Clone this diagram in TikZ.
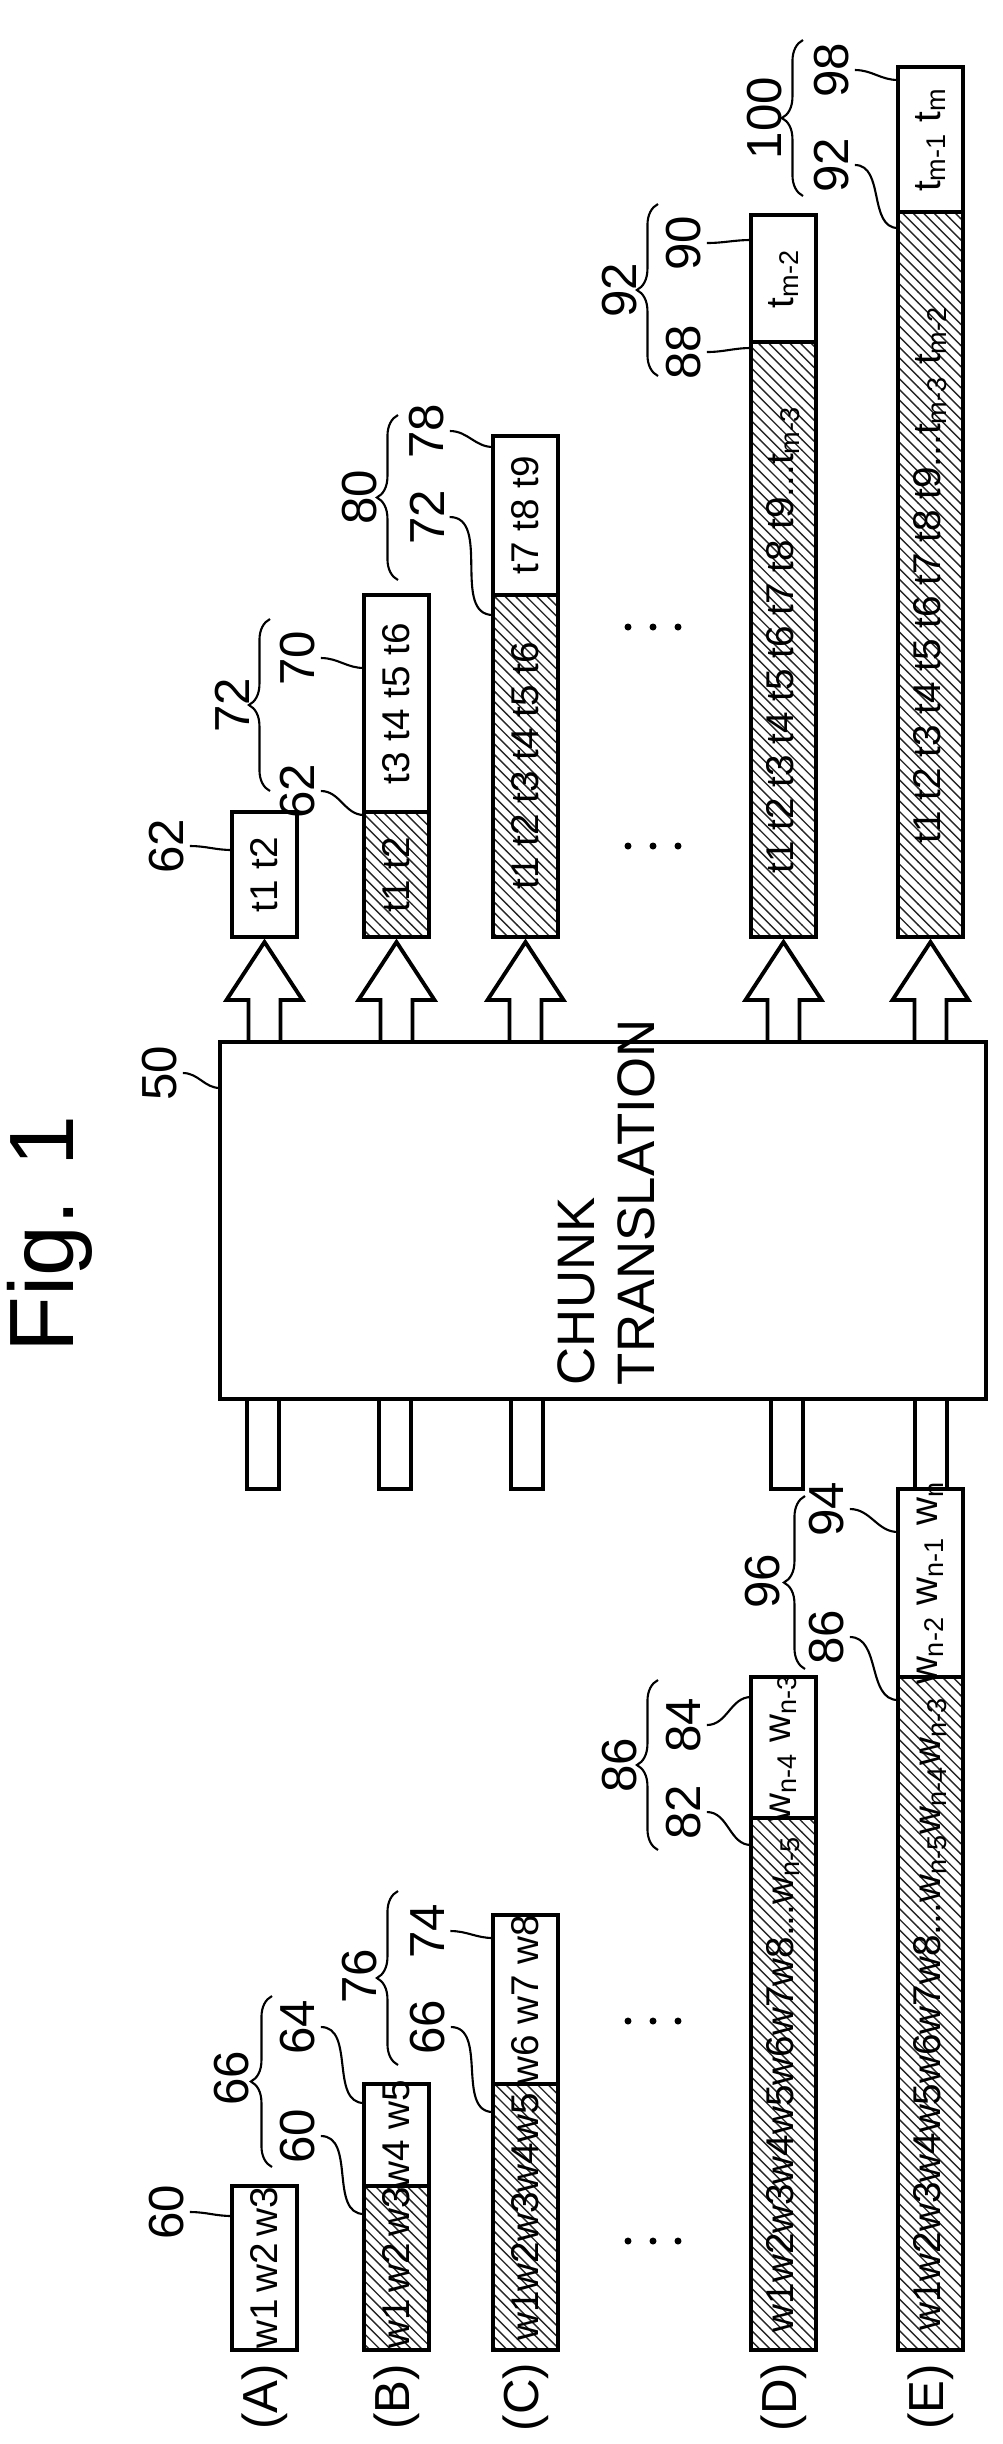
\documentclass[tikz,border=0pt]{standalone}
\usepackage{fontspec}
\setmainfont{Liberation Sans}
\usetikzlibrary{patterns,decorations.pathreplacing}
\newcommand{\sub}[1]{\textsubscript{#1}}
\begin{document}
\begin{tikzpicture}[x=0.01cm,y=-0.01cm,line width=1.1pt]

        \tikzset{num/.style = {rotate=90,font=\fontsize{14}{14}\selectfont,inner sep=1pt}}
        \tikzset{word/.style = {rotate=90,font=\fontsize{11}{11}\selectfont,inner sep=0pt}}
        \tikzset{hatch/.style = {pattern=north west lines,pattern color=black!85}}
        \tikzset{lead/.style = {line width=0.6pt}}
        \tikzset{grp/.style = {decorate,decoration={brace,amplitude=6pt},line width=0.6pt}}

        \useasboundingbox (0,0) rectangle (1002,2444);

        \node[rotate=90,font=\fontsize{26}{26}\selectfont] (fig) at (50,1234) {Fig. 1};

        % translation block
        \draw (220,1042) rectangle (986,1399);
        \node[rotate=90,anchor=north west,align=left,font=\fontsize{15}{17}\selectfont,inner sep=0pt] (chunk) at (556,1387) {CHUNK\\TRANSLATION};
        \node[num] (n50) at (160,1073) {50};
        \coordinate (c50) at (220,1088);
        \draw[lead] (n50.south) to[out=0,in=180] (c50);

        % output arrows
        \foreach \c in {264.5,396.5,525.5,783.5,930.5}
          \draw (\c-16,1042) -- (\c-16,1000) -- (\c-38,1000) -- (\c,942) -- (\c+38,1000) -- (\c+16,1000) -- (\c+16,1042);
        % input stems
        \foreach \c in {263,395,527,787,931}
          \draw (\c-16,1399) rectangle (\c+16,1489);

        % output chunks
        \draw (232,812) rectangle (297,937);
        \node[word] (ta) at (264.5,874.5) {t1 t2};
        \draw[hatch] (364,812) rectangle (429,937);
        \draw (364,595) rectangle (429,812);
        \node[word] (tb1) at (396.5,874.5) {t1 t2};
        \node[word] (tb2) at (396.5,703.5) {t3 t4 t5 t6};
        \draw[hatch] (493,595) rectangle (558,937);
        \draw (493,436) rectangle (558,595);
        \node[word] (tc1) at (525.5,766) {t1 t2 t3 t4 t5 t6};
        \node[word] (tc2) at (525.5,515.5) {t7 t8 t9};
        \draw[hatch] (751,342) rectangle (816,937);
        \draw (751,215) rectangle (816,342);
        \node[word] (td1) at (783.5,639.5) {t1 t2 t3 t4 t5 t6 t7 t8 t9...t\sub{m-3}};
        \node[word] (td2) at (783.5,278.5) {t\sub{m-2}};
        \draw[hatch] (898,212) rectangle (963,937);
        \draw (898,67) rectangle (963,212);
        \node[word] (te1) at (930.5,574.5) {t1 t2 t3 t4 t5 t6 t7 t8 t9...t\sub{m-3} t\sub{m-2}};
        \node[word] (te2) at (930.5,139.5) {t\sub{m-1} t\sub{m}};

        % input chunks
        \draw (232,2186) rectangle (297,2350);
        \node[word] (wa) at (264.5,2268) {w1\,w2\,w3};
        \draw[hatch] (364,2186) rectangle (429,2350);
        \draw (364,2084) rectangle (429,2186);
        \node[word] (wb1) at (396.5,2268) {w1\,w2\,w3};
        \node[word] (wb2) at (396.5,2135) {w4 w5};
        \draw[hatch] (493,2084) rectangle (558,2350);
        \draw (493,1915) rectangle (558,2084);
        \node[word] (wc1) at (525.5,2217) {w1w2w3w4w5};
        \node[word] (wc2) at (525.5,1999.5) {w6 w7 w8};
        \draw[hatch] (751,1818) rectangle (816,2350);
        \draw (751,1677) rectangle (816,1818);
        \node[word] (wd1) at (783.5,2084) {w1w2w3w4w5w6w7w8...w\sub{n-5}};
        \node[word] (wd2) at (783.5,1747.5) {w\sub{n-4} w\sub{n-3}};
        \draw[hatch] (898,1677) rectangle (963,2350);
        \draw (898,1489) rectangle (963,1677);
        \node[word] (we1) at (930.5,2013.5) {w1w2w3w4w5w6w7w8...w\sub{n-5}w\sub{n-4}w\sub{n-3}};
        \node[word] (we2) at (930.5,1583) {w\sub{n-2} w\sub{n-1} w\sub{n}};

        % row labels
        \node[num] (la) at (264.5,2397) {(A)};
        \node[num] (lb) at (396.5,2397) {(B)};
        \node[num] (lc) at (525.5,2397) {(C)};
        \node[num] (ld) at (783.5,2397) {(D)};
        \node[num] (le) at (930.5,2397) {(E)};

        % dots
        \foreach \y in {627,846,2021,2241}
          \foreach \x in {628,653,678}
            \fill (\x,\y) circle (3.5);

        % reference numerals, output side
        \node[num] (o62a) at (167,846) {62};
        \coordinate (p62a) at (232,850);
        \node[num] (o62b) at (298,791) {62};
        \coordinate (p62b) at (364,815);
        \node[num] (o70) at (298,658) {70};
        \coordinate (p70) at (364,668);
        \draw[grp] (270,791) -- (270,619);
        \node[num] (o72a) at (232,705) {72};
        \node[num] (o72b) at (427,517) {72};
        \coordinate (p72b) at (493,615);
        \node[num] (o78) at (427,431) {78};
        \coordinate (p78) at (493,447);
        \draw[grp] (398,580) -- (398,415);
        \node[num] (o80) at (360,497) {80};
        \node[num] (o88) at (684,352) {88};
        \coordinate (p88) at (751,348);
        \node[num] (o90) at (684,243) {90};
        \coordinate (p90) at (751,240);
        \draw[grp] (658,376) -- (658,204);
        \node[num] (o92a) at (620,290) {92};
        \node[num] (o92b) at (832,165) {92};
        \coordinate (p92b) at (898,228);
        \node[num] (o98) at (832,70) {98};
        \coordinate (p98) at (898,80);
        \draw[grp] (803,196) -- (803,40);
        \node[num] (o100) at (765,118) {100};
        \foreach \n/\p in {o62a/p62a,o62b/p62b,o70/p70,o72b/p72b,o78/p78,o88/p88,o90/p90,o92b/p92b,o98/p98}
          \draw[lead] (\n.south) to[out=0,in=180] (\p);

        % reference numerals, input side
        \node[num] (i60a) at (167,2212) {60};
        \coordinate (q60a) at (232,2216);
        \node[num] (i60b) at (298,2136) {60};
        \coordinate (q60b) at (364,2214);
        \node[num] (i64) at (298,2027) {64};
        \coordinate (q64) at (364,2103);
        \draw[grp] (272,2167) -- (272,1996);
        \node[num] (i66a) at (232,2078) {66};
        \node[num] (i66b) at (428,2027) {66};
        \coordinate (q66b) at (493,2112);
        \node[num] (i74) at (428,1931) {74};
        \coordinate (q74) at (493,1938);
        \draw[grp] (398,2065) -- (398,1891);
        \node[num] (i76) at (360,1976) {76};
        \node[num] (i82) at (684,1812) {82};
        \coordinate (q82) at (751,1845);
        \node[num] (i84) at (684,1725) {84};
        \coordinate (q84) at (751,1697);
        \draw[grp] (658,1850) -- (658,1680);
        \node[num] (i86a) at (620,1765) {86};
        \node[num] (i86b) at (827,1637) {86};
        \coordinate (q86b) at (898,1700);
        \node[num] (i94) at (827,1509) {94};
        \coordinate (q94) at (898,1532);
        \draw[grp] (805,1669) -- (805,1496);
        \node[num] (i96) at (763,1581) {96};
        \foreach \n/\p in {i60a/q60a,i60b/q60b,i64/q64,i66b/q66b,i74/q74,i82/q82,i84/q84,i86b/q86b,i94/q94}
          \draw[lead] (\n.south) to[out=0,in=180] (\p);

\end{tikzpicture}
\end{document}
